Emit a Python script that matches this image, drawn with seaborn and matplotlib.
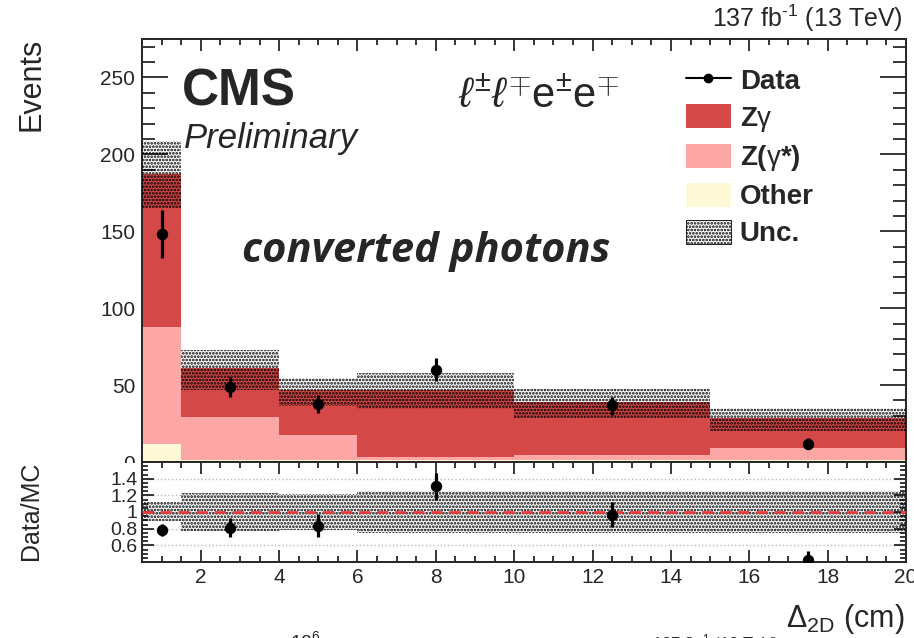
import numpy as np
import pandas as pd
import matplotlib
matplotlib.use("Agg")
import matplotlib.pyplot as plt
import seaborn as sns
from matplotlib.patches import Patch, Rectangle
from matplotlib.lines import Line2D
from matplotlib.ticker import MultipleLocator, FuncFormatter

# ---------------- data ----------------
bin_edges = [0.5, 1.5, 4, 6, 10, 15, 20]
bin_centers = [1.0, 2.75, 5.0, 8.0, 12.5, 17.5]
processes = ["Zγ", "Z(γ*)", "Other"]
zgamma = [99, 31.5, 29.3, 43.7, 34.5, 19.5]
zgammastar = [76, 28.5, 16.4, 2.0, 3.5, 8.3]
other = [12, 1.0, 1.0, 1.0, 1.0, 1.0]
unc_lo = [165, 46.7, 36.3, 34.3, 28.8, 20.2]
unc_hi = [209, 72.7, 54.5, 57.7, 47.3, 35.0]
data_y = [148, 49, 38, 60, 37, 12]
data_err_lo = [15.5, 7, 6, 7.5, 6.3, 3.5]
data_err_hi = [16, 6, 5.6, 7.5, 5.3, 3.5]
ratio_y = [0.79, 0.81, 0.835, 1.31, 0.97, 0.43]
ratio_err_lo = [0.08, 0.11, 0.135, 0.17, 0.155, 0.10]
ratio_err_hi = [0.07, 0.12, 0.14, 0.16, 0.145, 0.10]
ratio_unc_lo = [0.887, 0.775, 0.79, 0.75, 0.75, 0.75]
ratio_unc_hi = [1.115, 1.23, 1.216, 1.255, 1.255, 1.25]
legend_labels = ["Data", r"Z$\mathrm{\gamma}$", r"Z($\mathrm{\gamma}$*)", "Other", "Unc."]

colors = {"Zγ": "#d44848", "Z(γ*)": "#fca6a6", "Other": "#fdf8d5"}

sns.set_style("ticks")
plt.rcParams["font.family"] = ["Liberation Sans", "DejaVu Sans"]
plt.rcParams["mathtext.fontset"] = "custom"
plt.rcParams["mathtext.rm"] = "Liberation Sans"
plt.rcParams["mathtext.it"] = "Liberation Sans:italic"
plt.rcParams["mathtext.bf"] = "Liberation Sans:bold"
plt.rcParams["hatch.linewidth"] = 1.3
plt.rcParams["hatch.color"] = "black"

W, H = 914, 638
fig = plt.figure(figsize=(W / 100, H / 100), dpi=100)
fig.patch.set_facecolor("white")

def fx(px):
    return px / W

def fy(py):
    return 1 - py / H

L, R = 142, 906
ax = fig.add_axes([fx(L), fy(462), fx(R - L), (462 - 39) / H])
ax2 = fig.add_axes([fx(L), fy(562), fx(R - L), (562 - 462) / H])
ax.set_zorder(0)
ax2.set_zorder(1)

rows = []
for name, vals in zip(processes, [zgamma, zgammastar, other]):
    for c, v in zip(bin_centers, vals):
        rows.append({"x": c, "w": v, "process": name})
df = pd.DataFrame(rows)

sns.histplot(data=df, x="x", weights="w", hue="process", hue_order=processes,
             bins=bin_edges, multiple="stack", element="step", fill=True,
             alpha=1, linewidth=0, palette=colors, legend=False, ax=ax)

unc_hatch = "....."
ax.stairs(unc_hi, bin_edges, baseline=unc_lo, fill=True, facecolor="none",
          edgecolor="black", hatch=unc_hatch, linewidth=0, zorder=3)

ax.errorbar(bin_centers, data_y, yerr=[data_err_lo, data_err_hi], fmt="o",
            color="black", ms=7.2, elinewidth=2.3, capsize=0, zorder=5)

ax.set_xlim(0.5, 20)
ax.set_ylim(0, 275)
ax.set_xlabel("")
ax.set_ylabel("")
ax.xaxis.set_major_locator(MultipleLocator(2))
ax.xaxis.set_minor_locator(MultipleLocator(0.5))
ax.yaxis.set_major_locator(MultipleLocator(50))
ax.yaxis.set_minor_locator(MultipleLocator(10))
ax.tick_params(axis="both", which="both", direction="in", top=True, right=True,
               width=1.1, color="black")
ax.tick_params(axis="x", which="major", length=8.6, labelbottom=False)
ax.tick_params(axis="x", which="minor", length=4.3)
ax.tick_params(axis="y", which="major", length=18.7, labelsize=15, pad=5)
ax.tick_params(axis="y", which="minor", length=9.4)
for s in ax.spines.values():
    s.set_linewidth(1.4)
    s.set_visible(True)

# legend
handles = [
    Line2D([], [], color="black", lw=1.5, marker="o", ms=6),
    Patch(facecolor=colors["Zγ"], edgecolor="none"),
    Patch(facecolor=colors["Z(γ*)"], edgecolor="none"),
    Patch(facecolor=colors["Other"], edgecolor="none"),
    Patch(facecolor="white", edgecolor="black", hatch=unc_hatch, linewidth=0.6),
]
ax.legend(handles, legend_labels, loc="upper left", bbox_to_anchor=(0.712, 0.934),
          frameon=False, borderpad=0, borderaxespad=0, handlelength=1.62,
          handleheight=0.97, handletextpad=0.32, labelspacing=0.34,
          prop={"weight": "bold", "size": 20})

# ratio panel
ax2.set_facecolor("white")
ax2.yaxis.grid(True, which="major", ls=":", color="#bbbbbb", lw=1)
ax2.stairs(ratio_unc_hi, bin_edges, baseline=ratio_unc_lo, fill=True,
           facecolor="none", edgecolor="black", hatch=unc_hatch, linewidth=0,
           zorder=2)
ax2.axhline(1.0, color="#f03a3a", ls=(0, (4, 2.5)), lw=2, zorder=3)
ax2.errorbar(bin_centers, ratio_y, yerr=[ratio_err_lo, ratio_err_hi], fmt="o",
             color="black", ms=7.2, elinewidth=2.3, capsize=0, zorder=5,
             clip_on=True)
ax2.set_xlim(0.5, 20)
ax2.set_ylim(0.4, 1.6)
ax2.xaxis.set_major_locator(MultipleLocator(2))
ax2.xaxis.set_minor_locator(MultipleLocator(0.5))
ax2.set_yticks([0.6, 0.8, 1.0, 1.2, 1.4])
ax2.yaxis.set_minor_locator(MultipleLocator(0.05))
ax2.yaxis.set_major_formatter(FuncFormatter(lambda v, p: f"{v:g}"))
ax2.tick_params(axis="both", which="both", direction="in", top=True, right=True,
                width=1.1, color="black")
ax2.tick_params(axis="x", which="major", length=8.6, labelsize=15, pad=4)
ax2.tick_params(axis="x", which="minor", length=4.3)
ax2.tick_params(axis="y", which="major", length=8.6, labelsize=14, pad=3)
ax2.tick_params(axis="y", which="minor", length=4.3)
for s in ax2.spines.values():
    s.set_linewidth(1.4)
    s.set_visible(True)

# white strip hiding lower half of the main "0" label
fig.patches.append(Rectangle((0, 0), fx(L - 1), fy(463), transform=fig.transFigure,
                             facecolor="white", edgecolor="none", zorder=0.5))

# texts
fig.text(fx(31), fy(38), "Events", rotation=90, ha="center", va="top", fontsize=22)
fig.text(fx(31), fy(511), "Data/MC", rotation=90, ha="center", va="center", fontsize=18)
fig.text(fx(904), fy(627), r"$\Delta_{\mathregular{2D}}$ (cm)", ha="right",
         va="baseline", fontsize=22)
fig.text(fx(903), fy(27), r"137 fb$^{\text{-1}}$ (13 TeV)", ha="right",
         va="baseline", fontsize=18)
fig.text(fx(182), fy(105), "CMS", ha="left", va="baseline", fontsize=37,
         fontweight="bold")
fig.text(fx(184), fy(148), "Preliminary", ha="left", va="baseline", fontsize=25,
         fontstyle="italic")
fig.text(fx(458), fy(108), r"$\ell^{\pm}\ell^{\mp}$e$^{\pm}$e$^{\mp}$", ha="left",
         va="baseline", fontsize=30)
fig.text(fx(242), fy(262), "converted photons", ha="left", va="baseline",
         fontsize=30, fontweight="bold", fontstyle="italic",
         family=["Open Sans", "DejaVu Sans"])
# clipped fragments of the next figure below
fig.text(fx(290), fy(630), r"10$^{6}$", ha="left", va="top", fontsize=14)
fig.text(fx(652), fy(632), r"137 fb$^{\text{-1}}$ (13 TeV)", ha="left", va="top",
         fontsize=12)

fig.savefig("out.png", dpi=100, facecolor="white")
